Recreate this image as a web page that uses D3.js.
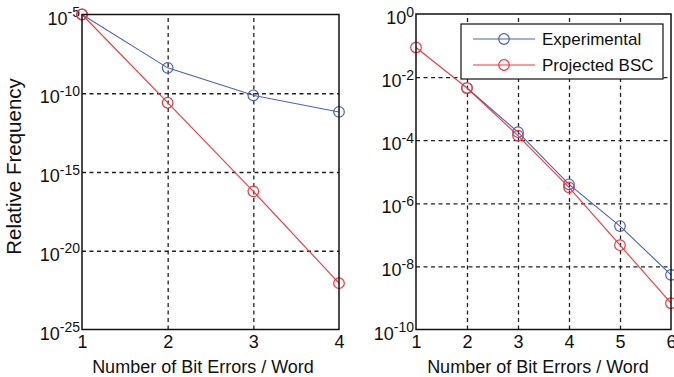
<!DOCTYPE html>
<html>
<head>
<meta charset="utf-8">
<script src="https://cdn.jsdelivr.net/npm/d3@7"></script>
<style>
  body { margin: 0; background: #fff; }
  svg text { font-family: "Liberation Sans", Arial, sans-serif; }
</style>
</head>
<body>
<div id="chart"></div>
<script>
// Chart data
var leftX = [1, 2, 3, 4];
var leftExperimental = [1e-5, 4.1e-9, 7.4e-11, 6.5e-12];
var leftProjected = [1e-5, 2.5e-11, 5.9e-17, 8.7e-23];
var leftYTicks = [1e-25, 1e-20, 1e-15, 1e-10, 1e-5];

var rightXExp = [2, 3, 4, 5, 6];
var rightExperimental = [4.5e-3, 1.8e-4, 4.0e-6, 1.9e-7, 5.4e-9];
var rightXProj = [1, 2, 3, 4, 5, 6];
var rightProjected = [0.087, 4.5e-3, 1.4e-4, 3.2e-6, 4.7e-8, 6.8e-10];
var rightYTicks = [1e-10, 1e-8, 1e-6, 1e-4, 1e-2, 1];

var seriesNames = ["Experimental", "Projected BSC"];
var xLabel = "Number of Bit Errors / Word";
var yLabel = "Relative Frequency";

var blue = "#4a63b5";
var red = "#ec3a3e";

var svgWidth = 674;
var svgHeight = 377;

var svg = d3.select("#chart")
  .append("svg")
  .attr("width", svgWidth)
  .attr("height", svgHeight);

// draw one panel
function drawPanel(opts) {
  var x = d3.scaleLinear().domain(opts.xDomain).range([opts.left, opts.right]);
  var y = d3.scaleLog().domain(opts.yDomain).range([opts.bottom, opts.top]);
  var w = opts.right - opts.left;
  var h = opts.bottom - opts.top;

  var g = svg.append("g");

  // dashed grid
  g.append("g")
    .attr("transform", `translate(0, ${opts.bottom})`)
    .call(d3.axisBottom(x).tickValues(opts.xTicks.slice(1, -1)).tickSize(-h).tickFormat(""))
    .call(s => s.select(".domain").remove())
    .selectAll("line")
    .attr("stroke", "#222")
    .attr("stroke-width", 1.3)
    .attr("stroke-dasharray", "4,3.5");

  g.append("g")
    .attr("transform", `translate(${opts.left}, 0)`)
    .call(d3.axisLeft(y).tickValues(opts.yTicks.slice(1, -1)).tickSize(-w).tickFormat(""))
    .call(s => s.select(".domain").remove())
    .selectAll("line")
    .attr("stroke", "#222")
    .attr("stroke-width", 1.3)
    .attr("stroke-dasharray", "4,3.5");

  // x tick labels
  var xAx = g.append("g")
    .attr("transform", `translate(0, ${opts.bottom})`)
    .call(d3.axisBottom(x).tickValues(opts.xTicks).tickSize(0).tickPadding(6).tickFormat(d3.format("d")));
  xAx.select(".domain").remove();
  xAx.selectAll(".tick text")
    .style("font-size", "18px")
    .style("fill", "#111");

  // y tick labels with superscript exponents
  var yAx = g.append("g")
    .attr("transform", `translate(${opts.left}, 0)`)
    .call(d3.axisLeft(y).tickValues(opts.yTicks).tickSize(0).tickPadding(2).tickFormat(""));
  yAx.select(".domain").remove();
  yAx.selectAll(".tick text")
    .style("font-size", "18px")
    .style("fill", "#111")
    .attr("dy", 9.5)
    .each(function (d) {
      var t = d3.select(this);
      t.text(null);
      t.append("tspan").text("10");
      t.append("tspan")
        .style("font-size", "14px")
        .attr("dy", -7.5)
        .text(Math.round(Math.log10(d)));
    });

  // series
  opts.series.forEach(function (s) {
    var pts = s.xs.map((xv, i) => [xv, s.ys[i]]);
    g.append("path")
      .datum(pts)
      .attr("fill", "none")
      .attr("stroke", s.color)
      .attr("stroke-width", 1.1)
      .attr("d", d3.line().x(d => x(d[0])).y(d => y(d[1])));
    g.append("g")
      .selectAll("circle")
      .data(pts)
      .join("circle")
      .attr("cx", d => x(d[0]))
      .attr("cy", d => y(d[1]))
      .attr("r", 5.3)
      .attr("fill", "none")
      .attr("stroke", s.color)
      .attr("stroke-width", 1.2);
  });

  // frame
  g.append("rect")
    .attr("x", opts.left)
    .attr("y", opts.top)
    .attr("width", w)
    .attr("height", h)
    .attr("fill", "none")
    .attr("stroke", "#111")
    .attr("stroke-width", 1.5);

  // x axis label
  g.append("text")
    .attr("x", opts.labelX)
    .attr("y", 372.5)
    .attr("text-anchor", "middle")
    .style("font-size", "18px")
    .style("fill", "#111")
    .text(xLabel);

  return { x: x, y: y };
}

drawPanel({
  left: 82, right: 339, top: 14.5, bottom: 329.5,
  xDomain: [1, 4], yDomain: [1e-25, 1e-5],
  xTicks: leftX, yTicks: leftYTicks,
  labelX: 203,
  series: [
    { xs: leftX, ys: leftExperimental, color: blue },
    { xs: leftX, ys: leftProjected, color: red }
  ]
});

drawPanel({
  left: 416, right: 671, top: 14, bottom: 329.5,
  xDomain: [1, 6], yDomain: [1e-10, 1],
  xTicks: rightXProj, yTicks: rightYTicks,
  labelX: 538,
  series: [
    { xs: rightXExp, ys: rightExperimental, color: blue },
    { xs: rightXProj, ys: rightProjected, color: red }
  ]
});

// y axis label
svg.append("text")
  .attr("transform", "translate(20.5, 166.5) rotate(-90)")
  .attr("text-anchor", "middle")
  .style("font-size", "20.5px")
  .style("fill", "#111")
  .text(yLabel);

// legend
var legend = svg.append("g").attr("transform", "translate(461, 24)");
legend.append("rect")
  .attr("width", 202)
  .attr("height", 55)
  .attr("fill", "#fff")
  .attr("stroke", "#111")
  .attr("stroke-width", 1.2);

var legendItems = legend.selectAll(".item")
  .data(seriesNames)
  .join("g")
  .attr("class", "item")
  .attr("transform", (d, i) => `translate(0, ${15 + i * 26})`);

legendItems.append("line")
  .attr("x1", 12).attr("x2", 74)
  .attr("stroke", (d, i) => i === 0 ? blue : red)
  .attr("stroke-width", 1.1);
legendItems.append("circle")
  .attr("cx", 43).attr("r", 5.3)
  .attr("fill", "none")
  .attr("stroke", (d, i) => i === 0 ? blue : red)
  .attr("stroke-width", 1.2);
legendItems.append("text")
  .attr("x", 81)
  .attr("dy", 6)
  .style("font-size", "17px")
  .style("fill", "#111")
  .text(d => d);
</script>
</body>
</html>
